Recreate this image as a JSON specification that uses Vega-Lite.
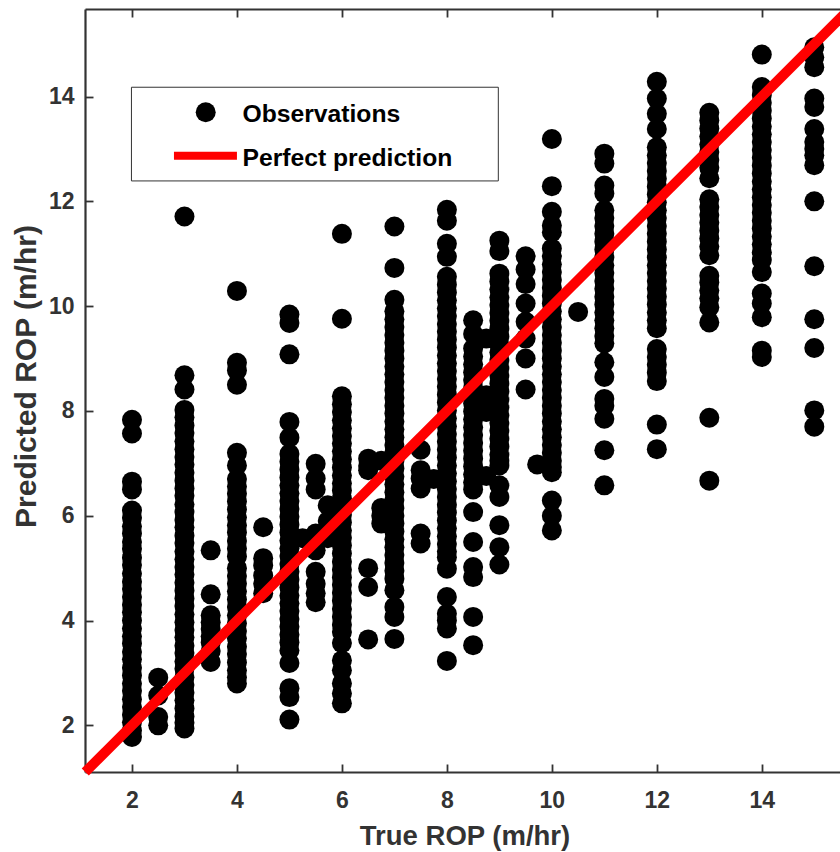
{"$schema":"https://vega.github.io/schema/vega-lite/v6.json","width":755,"height":763,"autosize":"none","padding":{"left":85,"top":9,"right":0,"bottom":80},"background":"white","config":{"view":{"stroke":null},"axis":{"grid":false,"domainColor":"#333333","domainWidth":2.2,"tickColor":"#333333","tickWidth":1.8,"tickSize":-8,"labelFont":"Liberation Sans","labelFontWeight":"bold","labelFontSize":23,"labelColor":"#333333","titleFont":"Liberation Sans","titleFontWeight":"bold","titleFontSize":27.5,"titleColor":"#333333"}},"datasets":{"obs":[
{"x":2,"y":7.83},{"x":2,"y":7.57},{"x":2,"y":6.65},{"x":2,"y":6.5},{"x":2,"y":6.1},{"x":2,"y":5.96},{"x":2,"y":5.8},{"x":2,"y":5.66},{"x":2,"y":5.5},{"x":2,"y":5.37},{"x":2,"y":5.2},{"x":2,"y":5.06},{"x":2,"y":4.9},{"x":2,"y":4.74},{"x":2,"y":4.6},{"x":2,"y":4.45},{"x":2,"y":4.3},{"x":2,"y":4.16},{"x":2,"y":4.0},{"x":2,"y":3.85},{"x":2,"y":3.7},{"x":2,"y":3.56},{"x":2,"y":3.4},{"x":2,"y":3.26},{"x":2,"y":3.1},{"x":2,"y":2.95},{"x":2,"y":2.8},{"x":2,"y":2.66},{"x":2,"y":2.5},{"x":2,"y":2.35},{"x":2,"y":2.2},{"x":2,"y":2.06},{"x":2,"y":1.9},{"x":2,"y":1.78},
{"x":2.5,"y":2.91},{"x":2.5,"y":2.57},{"x":2.5,"y":2.16},{"x":2.5,"y":2.0},
{"x":3,"y":11.71},{"x":3,"y":8.68},{"x":3,"y":8.41},{"x":3,"y":8.02},{"x":3,"y":7.88},{"x":3,"y":7.72},{"x":3,"y":7.58},{"x":3,"y":7.42},{"x":3,"y":7.27},{"x":3,"y":7.12},{"x":3,"y":6.98},{"x":3,"y":6.82},{"x":3,"y":6.67},{"x":3,"y":6.52},{"x":3,"y":6.38},{"x":3,"y":6.22},{"x":3,"y":6.07},{"x":3,"y":5.92},{"x":3,"y":5.78},{"x":3,"y":5.62},{"x":3,"y":5.48},{"x":3,"y":5.32},{"x":3,"y":5.17},{"x":3,"y":5.02},{"x":3,"y":4.88},{"x":3,"y":4.72},{"x":3,"y":4.57},{"x":3,"y":4.42},{"x":3,"y":4.28},{"x":3,"y":4.12},{"x":3,"y":3.97},{"x":3,"y":3.82},{"x":3,"y":3.68},{"x":3,"y":3.52},{"x":3,"y":3.38},{"x":3,"y":3.22},{"x":3,"y":3.08},{"x":3,"y":2.92},{"x":3,"y":2.77},{"x":3,"y":2.62},{"x":3,"y":2.48},{"x":3,"y":2.32},{"x":3,"y":2.17},{"x":3,"y":2.05},{"x":3,"y":1.94},
{"x":3.5,"y":5.34},{"x":3.5,"y":4.5},{"x":3.5,"y":4.1},{"x":3.5,"y":3.97},{"x":3.5,"y":3.84},{"x":3.5,"y":3.7},{"x":3.5,"y":3.58},{"x":3.5,"y":3.42},{"x":3.5,"y":3.21},
{"x":4,"y":10.29},{"x":4,"y":8.92},{"x":4,"y":8.77},{"x":4,"y":8.5},{"x":4,"y":7.2},{"x":4,"y":6.96},{"x":4,"y":6.7},{"x":4,"y":6.56},{"x":4,"y":6.42},{"x":4,"y":6.27},{"x":4,"y":6.12},{"x":4,"y":5.97},{"x":4,"y":5.82},{"x":4,"y":5.68},{"x":4,"y":5.52},{"x":4,"y":5.37},{"x":4,"y":5.22},{"x":4,"y":5.0},{"x":4,"y":4.85},{"x":4,"y":4.7},{"x":4,"y":4.56},{"x":4,"y":4.4},{"x":4,"y":4.26},{"x":4,"y":4.1},{"x":4,"y":3.95},{"x":4,"y":3.8},{"x":4,"y":3.66},{"x":4,"y":3.5},{"x":4,"y":3.36},{"x":4,"y":3.2},{"x":4,"y":3.05},{"x":4,"y":2.92},{"x":4,"y":2.8},
{"x":4.5,"y":5.78},{"x":4.5,"y":5.19},{"x":4.5,"y":5.05},{"x":4.5,"y":4.86},{"x":4.5,"y":4.7},{"x":4.5,"y":4.52},
{"x":5,"y":9.84},{"x":5,"y":9.68},{"x":5,"y":9.08},{"x":5,"y":7.79},{"x":5,"y":7.49},{"x":5,"y":7.18},{"x":5,"y":7.03},{"x":5,"y":6.88},{"x":5,"y":6.73},{"x":5,"y":6.58},{"x":5,"y":6.43},{"x":5,"y":6.28},{"x":5,"y":6.13},{"x":5,"y":5.98},{"x":5,"y":5.83},{"x":5,"y":5.68},{"x":5,"y":5.53},{"x":5,"y":5.38},{"x":5,"y":5.23},{"x":5,"y":5.08},{"x":5,"y":4.93},{"x":5,"y":4.78},{"x":5,"y":4.63},{"x":5,"y":4.48},{"x":5,"y":4.33},{"x":5,"y":4.18},{"x":5,"y":4.03},{"x":5,"y":3.88},{"x":5,"y":3.73},{"x":5,"y":3.58},{"x":5,"y":3.43},{"x":5,"y":3.19},{"x":5,"y":2.71},{"x":5,"y":2.54},{"x":5,"y":2.11},
{"x":5.25,"y":5.57},
{"x":5.5,"y":6.99},{"x":5.5,"y":6.71},{"x":5.5,"y":6.5},{"x":5.5,"y":5.66},{"x":5.5,"y":5.5},{"x":5.5,"y":5.34},{"x":5.5,"y":4.93},{"x":5.5,"y":4.7},{"x":5.5,"y":4.52},{"x":5.5,"y":4.35},
{"x":5.73,"y":6.2},{"x":5.73,"y":5.9},{"x":5.73,"y":5.57},
{"x":6,"y":11.38},{"x":6,"y":9.76},{"x":6,"y":8.28},{"x":6,"y":8.13},{"x":6,"y":7.98},{"x":6,"y":7.82},{"x":6,"y":7.67},{"x":6,"y":7.52},{"x":6,"y":7.38},{"x":6,"y":7.23},{"x":6,"y":7.08},{"x":6,"y":6.92},{"x":6,"y":6.77},{"x":6,"y":6.62},{"x":6,"y":6.48},{"x":6,"y":6.33},{"x":6,"y":6.18},{"x":6,"y":6.02},{"x":6,"y":5.87},{"x":6,"y":5.72},{"x":6,"y":5.58},{"x":6,"y":5.43},{"x":6,"y":5.28},{"x":6,"y":5.12},{"x":6,"y":4.97},{"x":6,"y":4.82},{"x":6,"y":4.68},{"x":6,"y":4.53},{"x":6,"y":4.38},{"x":6,"y":4.22},{"x":6,"y":4.07},{"x":6,"y":3.92},{"x":6,"y":3.78},{"x":6,"y":3.57},{"x":6,"y":3.24},{"x":6,"y":3.05},{"x":6,"y":2.8},{"x":6,"y":2.61},{"x":6,"y":2.42},
{"x":6.5,"y":7.09},{"x":6.5,"y":6.95},{"x":6.5,"y":6.87},{"x":6.5,"y":5.0},{"x":6.5,"y":4.64},{"x":6.5,"y":3.64},
{"x":6.75,"y":7.05},{"x":6.75,"y":6.15},{"x":6.75,"y":6.0},{"x":6.75,"y":5.85},
{"x":7,"y":11.52},{"x":7,"y":10.73},{"x":7,"y":10.12},{"x":7,"y":9.9},{"x":7,"y":9.75},{"x":7,"y":9.6},{"x":7,"y":9.45},{"x":7,"y":9.3},{"x":7,"y":9.15},{"x":7,"y":9.0},{"x":7,"y":8.85},{"x":7,"y":8.7},{"x":7,"y":8.55},{"x":7,"y":8.4},{"x":7,"y":8.25},{"x":7,"y":8.1},{"x":7,"y":7.95},{"x":7,"y":7.8},{"x":7,"y":7.65},{"x":7,"y":7.5},{"x":7,"y":7.35},{"x":7,"y":7.2},{"x":7,"y":7.05},{"x":7,"y":6.9},{"x":7,"y":6.75},{"x":7,"y":6.6},{"x":7,"y":6.45},{"x":7,"y":6.3},{"x":7,"y":6.15},{"x":7,"y":6.0},{"x":7,"y":5.85},{"x":7,"y":5.7},{"x":7,"y":5.55},{"x":7,"y":5.4},{"x":7,"y":5.25},{"x":7,"y":5.1},{"x":7,"y":4.95},{"x":7,"y":4.8},{"x":7,"y":4.58},{"x":7,"y":4.26},{"x":7,"y":4.07},{"x":7,"y":3.65},
{"x":7.5,"y":7.26},{"x":7.5,"y":6.87},{"x":7.5,"y":6.71},{"x":7.5,"y":6.52},{"x":7.5,"y":5.66},{"x":7.5,"y":5.47},
{"x":7.75,"y":6.7},
{"x":8,"y":11.84},{"x":8,"y":11.63},{"x":8,"y":11.19},{"x":8,"y":10.94},{"x":8,"y":10.56},{"x":8,"y":10.41},{"x":8,"y":10.26},{"x":8,"y":10.11},{"x":8,"y":9.96},{"x":8,"y":9.81},{"x":8,"y":9.66},{"x":8,"y":9.51},{"x":8,"y":9.36},{"x":8,"y":9.21},{"x":8,"y":9.06},{"x":8,"y":8.91},{"x":8,"y":8.76},{"x":8,"y":8.61},{"x":8,"y":8.46},{"x":8,"y":8.31},{"x":8,"y":8.16},{"x":8,"y":8.01},{"x":8,"y":7.86},{"x":8,"y":7.71},{"x":8,"y":7.56},{"x":8,"y":7.41},{"x":8,"y":7.26},{"x":8,"y":7.11},{"x":8,"y":6.96},{"x":8,"y":6.81},{"x":8,"y":6.66},{"x":8,"y":6.51},{"x":8,"y":6.36},{"x":8,"y":6.21},{"x":8,"y":6.06},{"x":8,"y":5.91},{"x":8,"y":5.76},{"x":8,"y":5.61},{"x":8,"y":5.46},{"x":8,"y":5.32},{"x":8,"y":5.21},{"x":8,"y":4.99},{"x":8,"y":4.45},{"x":8,"y":4.13},{"x":8,"y":4.0},{"x":8,"y":3.85},{"x":8,"y":3.23},
{"x":8.5,"y":9.73},{"x":8.5,"y":9.47},{"x":8.5,"y":9.19},{"x":8.5,"y":9.04},{"x":8.5,"y":8.89},{"x":8.5,"y":8.74},{"x":8.5,"y":8.59},{"x":8.5,"y":8.44},{"x":8.5,"y":8.29},{"x":8.5,"y":8.14},{"x":8.5,"y":7.99},{"x":8.5,"y":7.84},{"x":8.5,"y":7.69},{"x":8.5,"y":7.54},{"x":8.5,"y":7.39},{"x":8.5,"y":7.24},{"x":8.5,"y":7.09},{"x":8.5,"y":6.94},{"x":8.5,"y":6.79},{"x":8.5,"y":6.64},{"x":8.5,"y":6.5},{"x":8.5,"y":6.07},{"x":8.5,"y":5.5},{"x":8.5,"y":5.02},{"x":8.5,"y":4.83},{"x":8.5,"y":4.07},{"x":8.5,"y":3.53},
{"x":8.75,"y":9.38},{"x":8.75,"y":8.3},{"x":8.75,"y":8.15},{"x":8.75,"y":7.98},{"x":8.75,"y":6.76},
{"x":9,"y":11.25},{"x":9,"y":11.05},{"x":9,"y":10.62},{"x":9,"y":10.47},{"x":9,"y":10.32},{"x":9,"y":10.17},{"x":9,"y":10.02},{"x":9,"y":9.87},{"x":9,"y":9.72},{"x":9,"y":9.57},{"x":9,"y":9.42},{"x":9,"y":9.27},{"x":9,"y":9.12},{"x":9,"y":8.97},{"x":9,"y":8.82},{"x":9,"y":8.67},{"x":9,"y":8.52},{"x":9,"y":8.37},{"x":9,"y":8.22},{"x":9,"y":8.07},{"x":9,"y":7.92},{"x":9,"y":7.77},{"x":9,"y":7.62},{"x":9,"y":7.47},{"x":9,"y":7.32},{"x":9,"y":7.17},{"x":9,"y":7.05},{"x":9,"y":6.96},{"x":9,"y":6.58},{"x":9,"y":6.36},{"x":9,"y":5.82},{"x":9,"y":5.4},{"x":9,"y":5.07},
{"x":9.5,"y":10.95},{"x":9.5,"y":10.7},{"x":9.5,"y":10.42},{"x":9.5,"y":10.05},{"x":9.5,"y":9.7},{"x":9.5,"y":9.38},{"x":9.5,"y":9.0},{"x":9.5,"y":8.41},
{"x":9.72,"y":6.98},
{"x":10,"y":13.19},{"x":10,"y":12.29},{"x":10,"y":11.8},{"x":10,"y":11.54},{"x":10,"y":11.41},{"x":10,"y":11.1},{"x":10,"y":10.95},{"x":10,"y":10.8},{"x":10,"y":10.65},{"x":10,"y":10.5},{"x":10,"y":10.35},{"x":10,"y":10.2},{"x":10,"y":10.05},{"x":10,"y":9.9},{"x":10,"y":9.75},{"x":10,"y":9.6},{"x":10,"y":9.45},{"x":10,"y":9.3},{"x":10,"y":9.15},{"x":10,"y":9.0},{"x":10,"y":8.85},{"x":10,"y":8.7},{"x":10,"y":8.55},{"x":10,"y":8.4},{"x":10,"y":8.25},{"x":10,"y":8.1},{"x":10,"y":7.95},{"x":10,"y":7.8},{"x":10,"y":7.65},{"x":10,"y":7.5},{"x":10,"y":7.35},{"x":10,"y":7.2},{"x":10,"y":7.05},{"x":10,"y":6.93},{"x":10,"y":6.83},{"x":10,"y":6.29},{"x":10,"y":6.0},{"x":10,"y":5.72},
{"x":10.5,"y":9.89},
{"x":11,"y":12.91},{"x":11,"y":12.72},{"x":11,"y":12.3},{"x":11,"y":12.15},{"x":11,"y":11.83},{"x":11,"y":11.68},{"x":11,"y":11.53},{"x":11,"y":11.38},{"x":11,"y":11.23},{"x":11,"y":11.08},{"x":11,"y":10.93},{"x":11,"y":10.78},{"x":11,"y":10.63},{"x":11,"y":10.48},{"x":11,"y":10.33},{"x":11,"y":10.18},{"x":11,"y":10.03},{"x":11,"y":9.88},{"x":11,"y":9.73},{"x":11,"y":9.58},{"x":11,"y":9.43},{"x":11,"y":9.29},{"x":11,"y":8.93},{"x":11,"y":8.65},{"x":11,"y":8.23},{"x":11,"y":8.1},{"x":11,"y":7.85},{"x":11,"y":7.25},{"x":11,"y":6.58},
{"x":12,"y":14.28},{"x":12,"y":13.96},{"x":12,"y":13.67},{"x":12,"y":13.38},{"x":12,"y":13.03},{"x":12,"y":12.88},{"x":12,"y":12.73},{"x":12,"y":12.58},{"x":12,"y":12.43},{"x":12,"y":12.28},{"x":12,"y":12.13},{"x":12,"y":11.98},{"x":12,"y":11.83},{"x":12,"y":11.68},{"x":12,"y":11.53},{"x":12,"y":11.38},{"x":12,"y":11.23},{"x":12,"y":11.08},{"x":12,"y":10.93},{"x":12,"y":10.78},{"x":12,"y":10.63},{"x":12,"y":10.48},{"x":12,"y":10.33},{"x":12,"y":10.18},{"x":12,"y":10.03},{"x":12,"y":9.88},{"x":12,"y":9.73},{"x":12,"y":9.58},{"x":12,"y":9.18},{"x":12,"y":9.03},{"x":12,"y":8.88},{"x":12,"y":8.73},{"x":12,"y":8.57},{"x":12,"y":7.74},{"x":12,"y":7.27},
{"x":13,"y":13.69},{"x":13,"y":13.54},{"x":13,"y":13.39},{"x":13,"y":13.24},{"x":13,"y":13.09},{"x":13,"y":12.94},{"x":13,"y":12.79},{"x":13,"y":12.64},{"x":13,"y":12.44},{"x":13,"y":12.04},{"x":13,"y":11.89},{"x":13,"y":11.74},{"x":13,"y":11.59},{"x":13,"y":11.44},{"x":13,"y":11.29},{"x":13,"y":11.14},{"x":13,"y":10.97},{"x":13,"y":10.58},{"x":13,"y":10.45},{"x":13,"y":10.3},{"x":13,"y":10.15},{"x":13,"y":9.98},{"x":13,"y":9.69},{"x":13,"y":7.87},{"x":13,"y":6.67},
{"x":14,"y":14.8},{"x":14,"y":14.18},{"x":14,"y":14.03},{"x":14,"y":13.88},{"x":14,"y":13.73},{"x":14,"y":13.58},{"x":14,"y":13.43},{"x":14,"y":13.28},{"x":14,"y":13.13},{"x":14,"y":12.98},{"x":14,"y":12.83},{"x":14,"y":12.68},{"x":14,"y":12.53},{"x":14,"y":12.38},{"x":14,"y":12.23},{"x":14,"y":12.08},{"x":14,"y":11.93},{"x":14,"y":11.78},{"x":14,"y":11.63},{"x":14,"y":11.48},{"x":14,"y":11.33},{"x":14,"y":11.18},{"x":14,"y":11.03},{"x":14,"y":10.88},{"x":14,"y":10.65},{"x":14,"y":10.24},{"x":14,"y":10.05},{"x":14,"y":9.79},{"x":14,"y":9.15},{"x":14,"y":9.03},
{"x":15,"y":14.94},{"x":15,"y":14.75},{"x":15,"y":14.56},{"x":15,"y":13.96},{"x":15,"y":13.8},{"x":15,"y":13.38},{"x":15,"y":13.13},{"x":15,"y":13.0},{"x":15,"y":12.88},{"x":15,"y":12.69},{"x":15,"y":12.0},{"x":15,"y":10.76},{"x":15,"y":9.75},{"x":15,"y":9.2},{"x":15,"y":8.01},{"x":15,"y":7.7}
],"perfect":[{"x":1.11,"y":1.11},{"x":15.67,"y":15.67}],"legendBox":[{"label":"legend"}]},
"layer":[
{"data":{"name":"obs"},"mark":{"type":"circle","size":400,"color":"black","opacity":1},"encoding":{"x":{"field":"x","type":"quantitative","scale":{"domain":[1.105,15.49],"nice":false,"zero":false},"axis":{"orient":"bottom","values":[2,4,6,8,10,12,14],"format":"d","labelPadding":25,"titlePadding":10,"title":"True ROP (m/hr)","titleX":379.5}},"y":{"field":"y","type":"quantitative","scale":{"domain":[1.11,15.67],"nice":false,"zero":false},"axis":{"orient":"left","values":[2,4,6,8,10,12,14],"format":"d","labelPadding":19,"titlePadding":6.5,"title":"Predicted ROP (m/hr)","titleFontSize":30,"titleY":367}}}},
{"data":{"name":"perfect"},"mark":{"type":"line","color":"#ff0000","strokeWidth":10,"clip":false},"encoding":{"x":{"field":"x","type":"quantitative","axis":{"orient":"top","values":[2,4,6,8,10,12,14],"labels":false,"title":null}},"y":{"field":"y","type":"quantitative"}}},
{"data":{"name":"legendBox"},"mark":{"type":"rect","fill":"white","stroke":"#333333","strokeWidth":1},"encoding":{"x":{"datum":1.99,"type":"quantitative","axis":null},"x2":{"datum":8.98},"y":{"datum":14.177,"type":"quantitative"},"y2":{"datum":12.389}}},
{"data":{"name":"legendBox"},"mark":{"type":"circle","size":400,"color":"black","opacity":1},"encoding":{"x":{"datum":3.405,"type":"quantitative","axis":null},"y":{"datum":13.70,"type":"quantitative"}}},
{"data":{"name":"legendBox"},"mark":{"type":"rule","color":"#ff0000","strokeWidth":8},"encoding":{"x":{"datum":2.8,"type":"quantitative","axis":null},"x2":{"datum":4.0},"y":{"datum":12.87,"type":"quantitative"}}},
{"data":{"name":"legendBox"},"mark":{"type":"text","text":"Observations","align":"left","baseline":"middle","font":"Liberation Sans","fontWeight":"bold","fontSize":24.7,"color":"black"},"encoding":{"x":{"datum":4.105,"type":"quantitative","axis":null},"y":{"datum":13.64,"type":"quantitative"}}},
{"data":{"name":"legendBox"},"mark":{"type":"text","text":"Perfect prediction","align":"left","baseline":"middle","font":"Liberation Sans","fontWeight":"bold","fontSize":24.7,"color":"black"},"encoding":{"x":{"datum":4.105,"type":"quantitative","axis":null},"y":{"datum":12.81,"type":"quantitative"}}}
],"resolve":{"axis":{"x":"independent"}}}
